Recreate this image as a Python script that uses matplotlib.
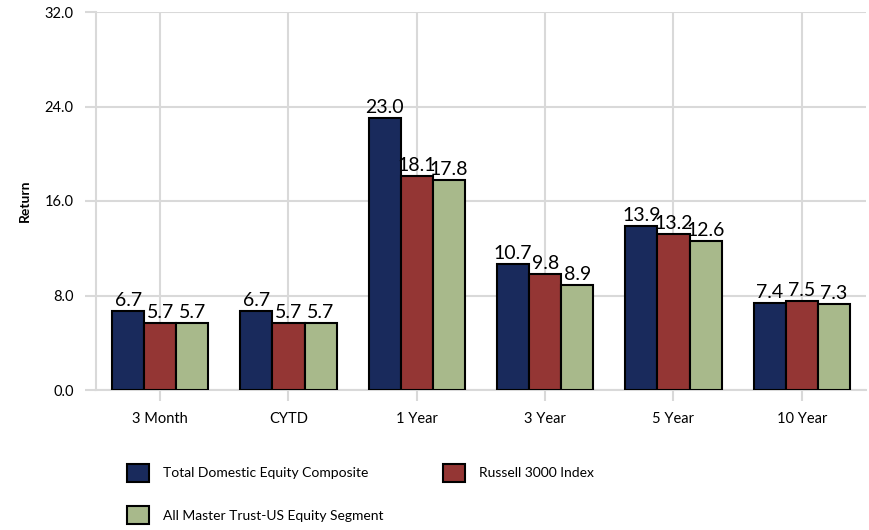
import numpy as np
import matplotlib.pyplot as plt

plt.rcParams['font.family'] = ['Lato', 'DejaVu Sans']

# data
periods = ["3 Month", "CYTD", "1 Year", "3 Year", "5 Year", "10 Year"]
total_domestic = [6.7, 6.7, 23.0, 10.7, 13.9, 7.4]
russell_3000 = [5.7, 5.7, 18.1, 9.8, 13.2, 7.5]
master_trust = [5.7, 5.7, 17.8, 8.9, 12.6, 7.3]
series_names = ["Total Domestic Equity Composite", "Russell 3000 Index",
                "All Master Trust-US Equity Segment"]
colors = ["#192A5C", "#943634", "#A8B98B"]
yticks = [0, 8, 16, 24, 32]

fig = plt.figure(figsize=(8.7, 5.3), dpi=100)
ax = fig.add_axes([96 / 870, 1 - 390 / 530, 770 / 870, 378 / 530])

x = np.arange(len(periods))
width = 0.25
bars = []
for i, (vals, name, c) in enumerate(zip([total_domestic, russell_3000, master_trust],
                                        series_names, colors)):
    b = ax.bar(x + (i - 1) * width, vals, width, color=c, edgecolor="black",
               linewidth=1.5, label=name, zorder=3)
    bars.append(b)
    for rect, v in zip(b, vals):
        ax.annotate(f"{v:.1f}", (rect.get_x() + rect.get_width() / 2, v),
                    xytext=(0, 1.5), textcoords="offset points",
                    ha="center", va="bottom", fontsize=14, zorder=4)

ax.set_xlim(-0.5, len(periods) - 0.5)
ax.set_ylim(0, 32)
ax.set_yticks(yticks)
ax.set_yticklabels([f"{t:.1f}" for t in yticks])
ax.set_xticks(x)
ax.set_xticklabels(periods)

ax.grid(True, color="#D9D9D9", linewidth=1.5, zorder=0)
ax.tick_params(axis="both", colors="#D9D9D9", width=1.5, length=8,
               labelcolor="black", labelsize=10.5)
ax.tick_params(axis="y", pad=8)
ax.tick_params(axis="x", pad=8)
for s in ["top", "right"]:
    ax.spines[s].set_visible(False)
for s in ["left", "bottom"]:
    ax.spines[s].set_color("#D9D9D9")
    ax.spines[s].set_linewidth(1.5)

ax.set_ylabel("Return", fontsize=10, fontweight="bold")
ax.yaxis.set_label_coords(-0.084, 0.5)

# legend: row 1 Total + Russell, row 2 Master Trust
handles = [bars[0], bars[2], bars[1]]
labels = [series_names[0], series_names[2], series_names[1]]
fig.legend(handles, labels, loc="upper left",
           bbox_to_anchor=(120 / 870, 1 - 457 / 530), ncol=2, frameon=False,
           fontsize=10, handlelength=1.6, handleheight=1.6, handletextpad=1.0,
           labelspacing=1.75, columnspacing=4.3, borderpad=0)

fig.savefig("out.png", dpi=100)
